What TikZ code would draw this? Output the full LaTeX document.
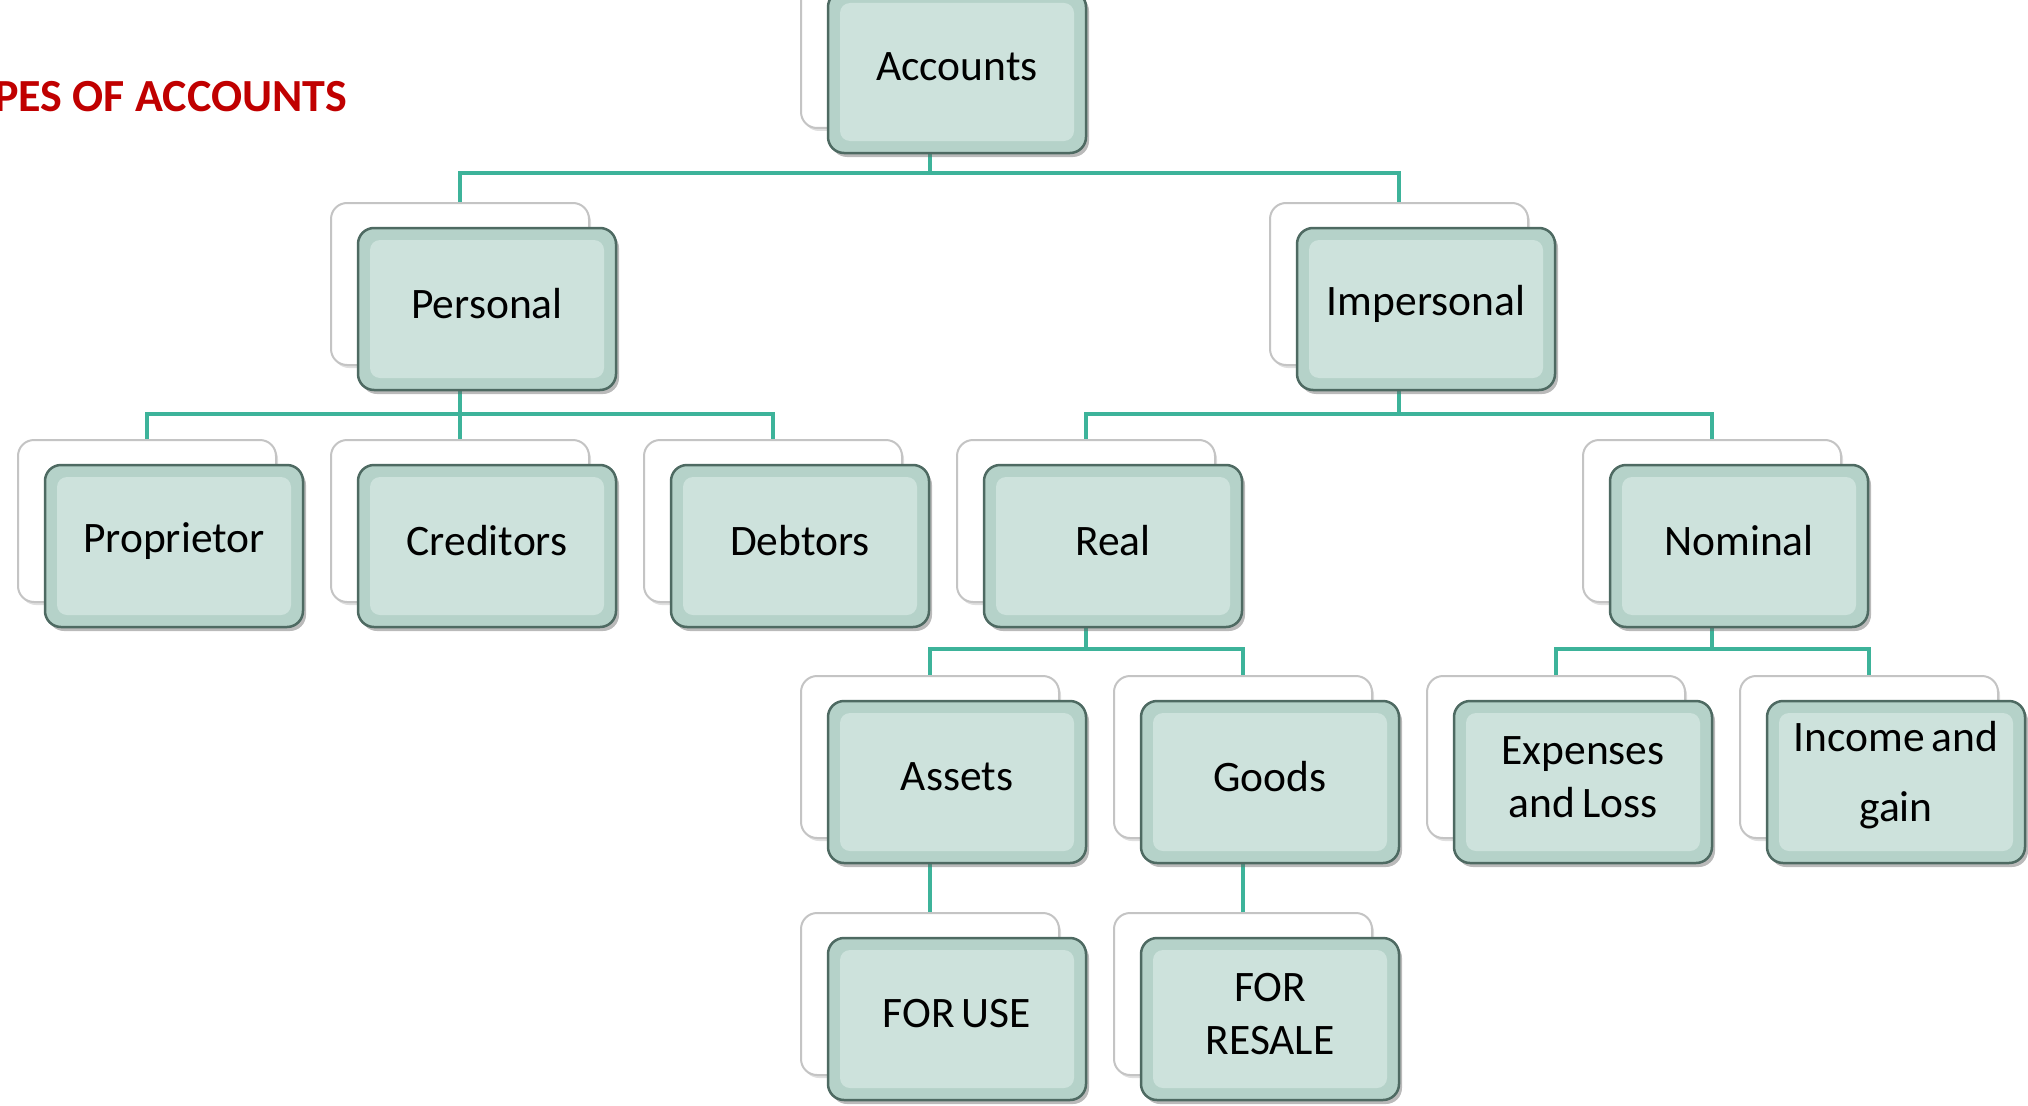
\documentclass[tikz,border=0pt]{standalone}
\usepackage{fontspec}
\setmainfont{Carlito}
\usetikzlibrary{shadows,backgrounds}
\definecolor{connc}{HTML}{3DB39A}
\definecolor{boxfill}{HTML}{CDE2DC}
\definecolor{boxrim}{HTML}{B5D2C9}
\definecolor{boxline}{HTML}{4E6A62}
\definecolor{backline}{HTML}{C4C4C4}
\definecolor{titlered}{HTML}{C00000}
\tikzset{
  frontbox/.style={draw=boxline, line width=2.5pt, rounded corners=16pt,
    minimum width=258pt, minimum height=162pt, inner sep=0pt, fill=boxrim,
    align=center, text width=250pt, font=\fontsize{43.5}{53}\selectfont,
    execute at begin node={\spaceskip=7pt\relax},
    execute at end node={\par\vspace*{10pt}},
    drop shadow={shadow xshift=3pt, shadow yshift=-4pt, opacity=0.45, fill=black!60},
    path picture={\fill[boxfill, rounded corners=10pt]
      ([shift={(12pt,-12pt)}]path picture bounding box.north west) rectangle
      ([shift={(-12pt,12pt)}]path picture bounding box.south east);}},
  backbox/.style={draw=backline, line width=2pt, rounded corners=16pt,
    minimum width=258pt, minimum height=162pt, inner sep=0pt, fill=white,
    drop shadow={shadow xshift=2pt, shadow yshift=-3pt, opacity=0.25}},
  link/.style={draw=connc, line width=3.5pt},
}
\begin{document}
\begin{tikzpicture}[x=1pt,y=-1pt]
\useasboundingbox (0,0) rectangle (2028,1105);
\clip (0,0) rectangle (2028,1105);
\node[anchor=base east, inner sep=0pt, text=titlered,
  font=\fontsize{46}{50}\selectfont\bfseries] (title) at (347,112) {PES OF ACCOUNTS};
% back boxes
\foreach \n/\x/\y in {accounts/957/72, personal/487/309, impersonal/1426/309,
  proprietor/174/546, creditors/487/546, debtors/800/546, real/1113/546, nominal/1739/546,
  assets/957/782, goods/1270/782, expenses/1583/782, income/1896/782,
  foruse/957/1019, forresale/1270/1019}
  \node[backbox] (\n b) at (\x-27,\y-25) {};
% front boxes
\node[frontbox] (accounts) at (957,72) {Accounts};
\node[frontbox] (personal) at (487,309) {Personal};
\node[frontbox] (impersonal) at (1426,309) {Impersonal};
\node[frontbox] (proprietor) at (174,546) {Proprietor};
\node[frontbox] (creditors) at (487,546) {Creditors};
\node[frontbox] (debtors) at (800,546) {Debtors};
\node[frontbox] (real) at (1113,546) {Real};
\node[frontbox] (nominal) at (1739,546) {Nominal};
\node[frontbox] (assets) at (957,782) {Assets};
\node[frontbox] (goods) at (1270,782) {Goods};
\node[frontbox] (expenses) at (1583,782) {Expenses\\and Loss};
\node[frontbox, font=\fontsize{43.5}{70}\selectfont,
  execute at end node={\par\vspace*{4pt}}] (income) at (1896,782) {Income and\\gain};
\node[frontbox] (foruse) at (957,1019) {FOR USE};
\node[frontbox] (forresale) at (1270,1019) {FOR\\RESALE};
% connectors
\coordinate (bus0) at (0,173);
\coordinate (bus1) at (0,414);
\coordinate (bus2) at (0,649);
\begin{scope}[on background layer]
\draw[link] (accountsb.south) -- (accountsb.south |- bus0);
\draw[link] (personalb.north) -- (personalb.north |- bus0) -- (impersonalb.north |- bus0) -- (impersonalb.north);
\draw[link] (personalb.south) -- (personalb.south |- bus1);
\draw[link] (proprietorb.north) -- (proprietorb.north |- bus1) -- (debtorsb.north |- bus1) -- (debtorsb.north);
\draw[link] (creditorsb.north) -- (creditorsb.north |- bus1);
\draw[link] (impersonalb.south) -- (impersonalb.south |- bus1);
\draw[link] (realb.north) -- (realb.north |- bus1) -- (nominalb.north |- bus1) -- (nominalb.north);
\draw[link] (realb.south) -- (realb.south |- bus2);
\draw[link] (assetsb.north) -- (assetsb.north |- bus2) -- (goodsb.north |- bus2) -- (goodsb.north);
\draw[link] (nominalb.south) -- (nominalb.south |- bus2);
\draw[link] (expensesb.north) -- (expensesb.north |- bus2) -- (incomeb.north |- bus2) -- (incomeb.north);
\draw[link] (assetsb.south) -- (foruseb.north);
\draw[link] (goodsb.south) -- (forresaleb.north);
\end{scope}
\end{tikzpicture}
\end{document}
